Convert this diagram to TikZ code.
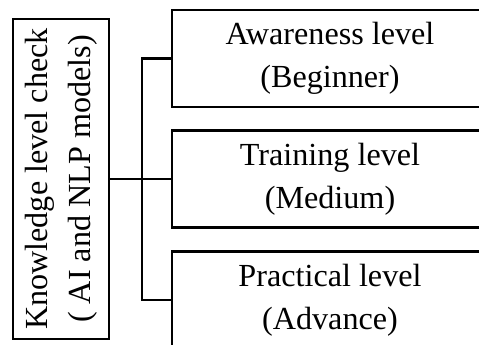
\documentclass[tikz,border=0pt]{standalone}
\usepackage{fontspec}
\setmainfont{Liberation Serif}
\tikzset{
levelbox/.style={draw, line width=1.3pt, inner sep=0pt, minimum width=6.32cm, minimum height=1.94cm,
  align=center, font=\fontsize{18.3pt}{24.4pt}\selectfont},
checkbox/.style={draw, line width=1.3pt, inner sep=0pt, rotate=90, minimum width=6.4cm, minimum height=1.92cm,
  align=center, font=\fontsize{18.3pt}{24.4pt}\selectfont},
branch/.style={line width=1.3pt}
}
\begin{document}
\begin{tikzpicture}
\useasboundingbox (0,0) rectangle (9.58,-6.9);
\clip (0,0) rectangle (9.58,-6.9);
\node[checkbox] (check) at (1.22,-3.58) {Knowledge level check\\( AI and NLP models)};
\node[levelbox] (aware) at (6.6,-1.17) {Awareness level\\(Beginner)};
\node[levelbox] (train) at (6.6,-3.58) {Training level\\(Medium)};
\node[levelbox] (practical) at (6.6,-6.0) {Practical level\\(Advance)};
\coordinate (fork) at (2.84,-3.58);
\draw[branch] (check.south) -- (train.west);
\draw[branch] (aware.west) -| (fork) |- (practical.west);
\end{tikzpicture}
\end{document}
